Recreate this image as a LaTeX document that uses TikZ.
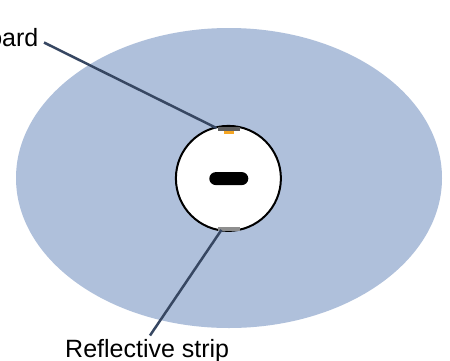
\documentclass[tikz,border=0pt]{standalone}
\usepackage{fontspec}
\setmainfont{Liberation Sans}
\usetikzlibrary{shapes.geometric}
\begin{document}
\begin{tikzpicture}[x=1pt,y=-1pt,
  lbl/.style={inner sep=0pt,font=\fontsize{25}{29}\selectfont},
  leader/.style={draw=leadc,line width=2.5pt},
  strip/.style={rectangle,inner sep=0pt,minimum width=22.5pt,minimum height=4pt}]
\definecolor{bluef}{HTML}{AFC0DB}
\definecolor{leadc}{HTML}{374762}
\definecolor{darkg}{HTML}{5E5E5E}
\definecolor{lightg}{HTML}{8E8E8E}
\definecolor{orng}{HTML}{F5A623}
\useasboundingbox (0,0) rectangle (450,360);
\fill[white] (0,0) rectangle (450,360);
% outer ellipse
\node[ellipse, draw=none, fill=bluef, minimum width=426pt, minimum height=300pt, inner sep=0pt] (disc) at (229,178) {};
% inner circle
\node[circle, draw=black, line width=2pt, fill=white, minimum size=105pt, inner sep=0pt] (hub) at (228.4,178.4) {};
% slot
\node[rectangle, rounded corners=6.5pt, fill=black, minimum width=39pt, minimum height=13pt, inner sep=0pt] (slot) at (228.8,178.6) {};
% strips
\node[strip, fill=darkg] (striptop) at (228.9,128.7) {};
\node[rectangle, inner sep=0pt, fill=orng, minimum width=10pt, minimum height=2.6pt] (board) at (229,132.5) {};
\node[strip, fill=lightg] (stripbot) at (228.9,228.7) {};
% labels
\node[lbl, anchor=base east] (lbltop) at (38.5,46.7) {board};
\node[lbl, anchor=base west] (lblbot) at (65,357) {Reflective strip};
\coordinate (t1) at (44,42.5);
\coordinate (b1) at (150,335.5);
\draw[leader] (t1) -- ([xshift=-1pt,yshift=-1.5pt]striptop.north west);
\draw[leader] ([xshift=4pt,yshift=1pt]stripbot.south west) -- (b1);
\end{tikzpicture}
\end{document}
